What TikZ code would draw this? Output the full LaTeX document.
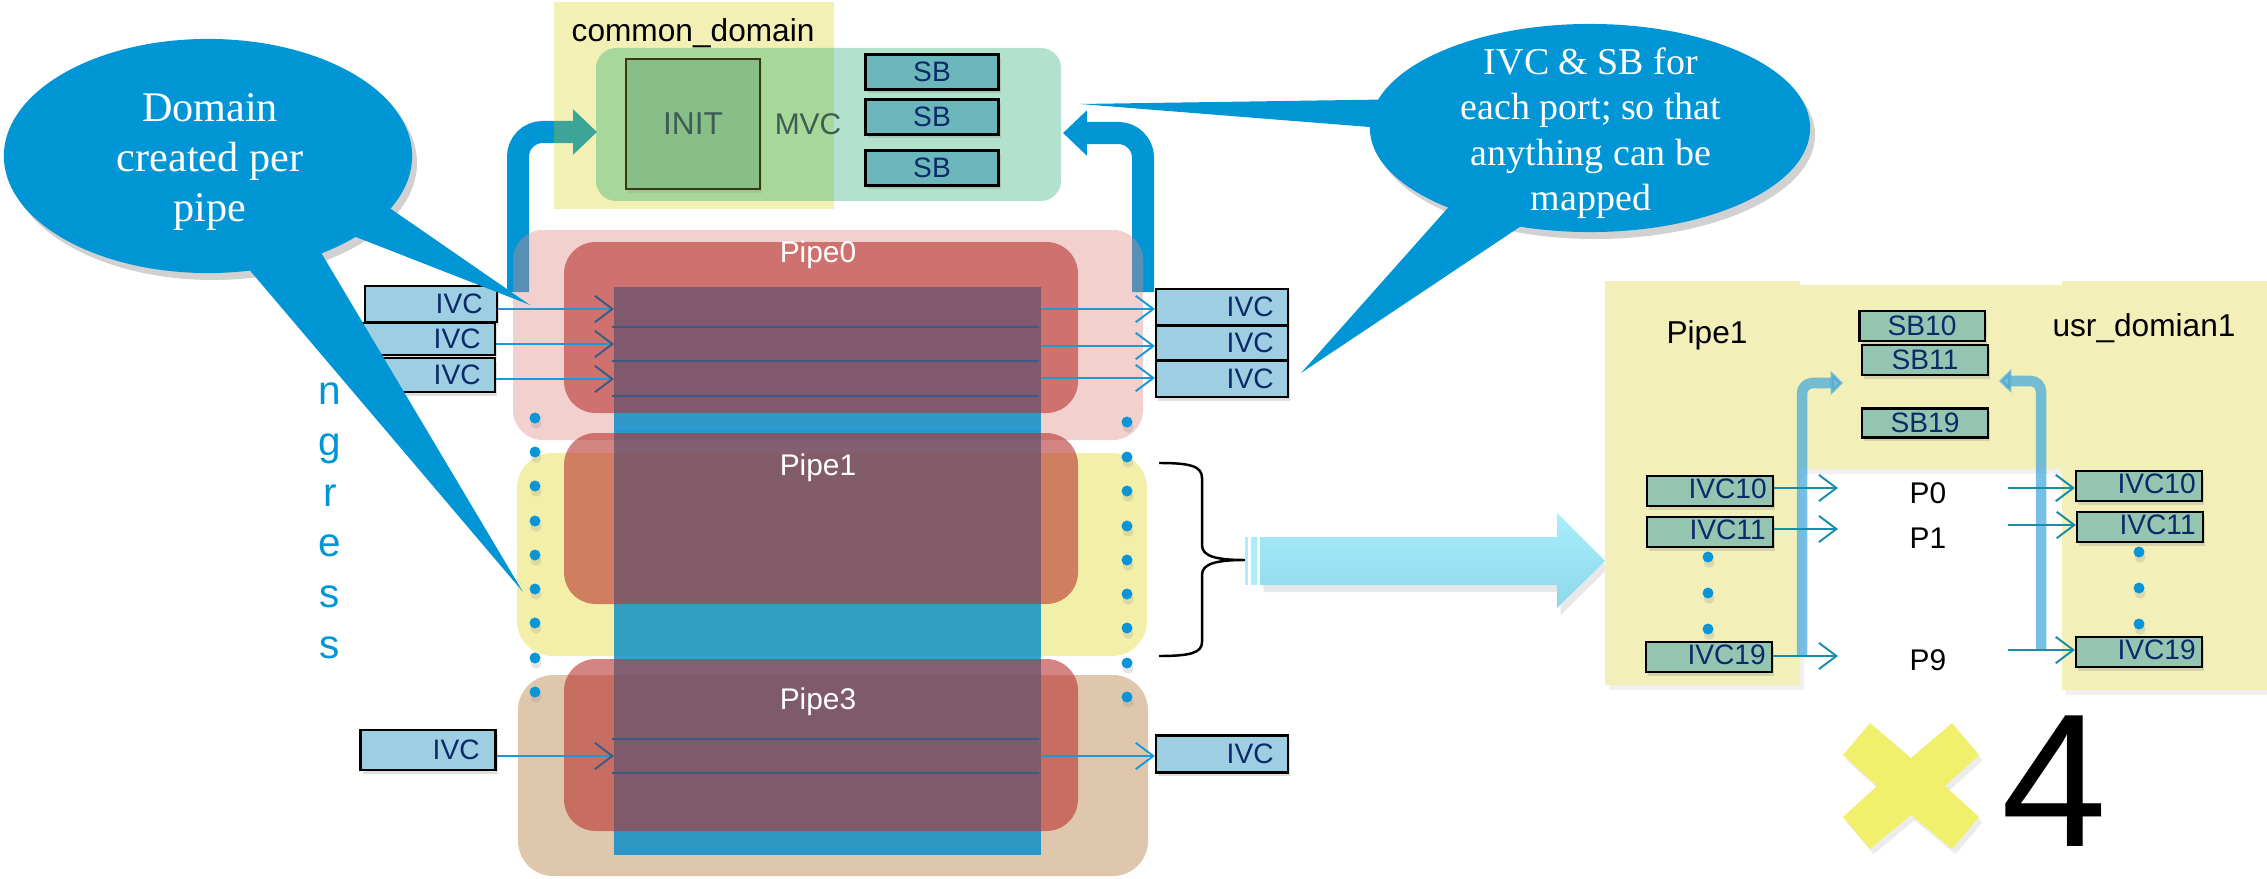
\documentclass[tikz,border=0pt]{standalone}
\usepackage{fontspec}
\setmainfont{Liberation Sans}
\newfontfamily\bubblefont{Liberation Serif}
\usetikzlibrary{arrows.meta,shadows,shapes.geometric}

\definecolor{bubblue}{HTML}{0096D6}
\definecolor{cdyel}{HTML}{D2CC00}
\definecolor{mint}{HTML}{00A05A}
\definecolor{initfill}{HTML}{88BE88}
\definecolor{initdraw}{HTML}{3C3A12}
\definecolor{inittext}{HTML}{3E5C52}
\definecolor{sbfill}{HTML}{6CB7BC}
\definecolor{navytext}{HTML}{0C2A6A}
\definecolor{pinkc}{HTML}{DE8984}
\definecolor{yelc}{HTML}{E8E460}
\definecolor{tanc}{HTML}{BF8F5B}
\definecolor{colblue}{HTML}{008CC8}
\definecolor{redc}{HTML}{B83230}
\definecolor{navyline}{HTML}{3D5A85}
\definecolor{arrblue}{HTML}{1A9AD9}
\definecolor{ivcfill}{HTML}{9ECEE2}
\definecolor{dotblue}{HTML}{0A95D8}
\definecolor{rpyel}{HTML}{F2F0B8}
\definecolor{rpfill}{HTML}{94C5B1}
\definecolor{tealc}{HTML}{178EA8}
\definecolor{lightarr}{HTML}{3FA6DC}
\definecolor{bigtop}{HTML}{A8EEFB}
\definecolor{bigbot}{HTML}{8ED8EA}
\definecolor{crossyel}{HTML}{F0F06C}

\tikzset{
  lbl/.style={inner sep=0pt},
  ivcbox/.style={draw=black, line width=0.6pt, fill=ivcfill, inner sep=0pt,
    minimum width=1.32cm, minimum height=0.35cm, font=\fontsize{8}{9}\selectfont,
    text=navytext, drop shadow={shadow xshift=0.6pt, shadow yshift=-1pt, opacity=0.25}},
  sbbox/.style={ivcbox, fill=sbfill, minimum width=1.33cm, minimum height=0.35cm},
  rpbox/.style={ivcbox, fill=rpfill, minimum width=1.26cm, minimum height=0.30cm},
  pdot/.style={circle, fill=dotblue, inner sep=0pt, minimum size=0.11cm,
    drop shadow={shadow xshift=0.3pt, shadow yshift=-1.5pt, opacity=0.2}},
  arr/.style={draw=arrblue, line width=0.55pt, -{Straight Barb[length=5pt,width=7.5pt]}},
  arrin/.style={draw=arrblue, line width=0.55pt, -{Straight Barb[length=5pt,width=7.5pt,color=navyline]}},
  tarr/.style={draw=tealc, line width=0.55pt, -{Straight Barb[length=5pt,width=7.5pt]}},
  hline/.style={draw=navyline, line width=0.55pt},
  pipelbl/.style={text=white, font=\fontsize{8.5}{10}\selectfont, inner sep=0pt},
  bent/.style={draw=bubblue, line width=6.26pt, rounded corners=7pt, -{Triangle[width=12.5pt,length=6.8pt]}},
  lbent/.style={draw=lightarr, opacity=0.7, line width=3pt, rounded corners=3pt, -{Triangle[width=6.6pt,length=3.5pt]}},
  blk/.style={inner sep=0pt, font=\fontsize{9}{10}\selectfont},
  pport/.style={inner sep=0pt, font=\fontsize{8.5}{10}\selectfont},
  ingr/.style={inner sep=0pt, anchor=base, text=bubblue, font=\fontsize{11.5}{12}\selectfont},
}

\begin{document}
\begin{tikzpicture}[x=0.01cm,y=-0.01cm]
\useasboundingbox (0,0) rectangle (2267,879);

% ---------- bent arrows to common domain (behind)
\coordinate (lbA) at (518,292); \coordinate (lbB) at (518,132); \coordinate (lbC) at (597,132);
\draw[bent] (lbA) -- (lbB) -- (lbC);
\coordinate (rbA) at (1143,292); \coordinate (rbB) at (1143,133); \coordinate (rbC) at (1063,133);
\draw[bent] (rbA) -- (rbB) -- (rbC);

% ---------- common domain
\fill[cdyel, opacity=0.29] (554,2) rectangle (834,209);
\fill[mint, opacity=0.3, rounded corners=5.7pt] (596,48) rectangle (1061,201);
\node[blk, anchor=base west] (cdlbl) at (571,42) {common\_domain};
\node[draw=initdraw, line width=0.6pt, fill=initfill, minimum width=1.34cm, minimum height=1.30cm,
      text=inittext, font=\fontsize{9}{10}\selectfont, inner sep=0pt,
      drop shadow={shadow xshift=0.6pt, shadow yshift=-1pt, opacity=0.2}] (init) at (693,124) {INIT};
\node[lbl, text=inittext, font=\fontsize{8.5}{10}\selectfont] (mvc) at (808,124) {MVC};
\node[sbbox] (sb1) at (932,72) {SB};
\node[sbbox] (sb2) at (932,117) {SB};
\node[sbbox] (sb3) at (932,168) {SB};

% ---------- pipe outer boxes
\fill[pinkc, opacity=0.4, rounded corners=8.5pt] (513,230) rectangle (1143,440);
\fill[yelc, opacity=0.55, rounded corners=10pt] (517,453) rectangle (1147,656);
\fill[tanc, opacity=0.5, rounded corners=10pt] (518,675) rectangle (1148,876);

% ---------- central column
\fill[colblue, opacity=0.8] (614,287) rectangle (1041,855);

% ---------- red pipe boxes
\fill[redc, opacity=0.6, rounded corners=9pt] (564,242) rectangle (1078,413);
\fill[redc, opacity=0.6, rounded corners=9pt] (564,433) rectangle (1078,604);
\fill[redc, opacity=0.6, rounded corners=9pt] (564,659) rectangle (1078,831);

\node[pipelbl] (p0) at (818,255) {Pipe0};
\node[pipelbl] (p1) at (818,468) {Pipe1};
\node[pipelbl] (p3) at (818,702) {Pipe3};

% horizontal lines
\foreach \y in {327,361,396,739,773} \draw[hline] (612,\y) -- (1039,\y);
\draw[draw=arrblue, line width=0.6pt] (614,431) -- (1041,431);

% ---------- IVC boxes pipe0
\node[ivcbox, minimum height=0.36cm] (il1) at (431,304) {\hspace{16pt}IVC};
\node[ivcbox, minimum height=0.32cm] (il2) at (429,339) {\hspace{16pt}IVC};
\node[ivcbox, minimum height=0.34cm] (il3) at (429,375) {\hspace{16pt}IVC};
\node[ivcbox, minimum height=0.36cm] (ir1) at (1222,307) {\hspace{16pt}IVC};
\node[ivcbox, minimum height=0.35cm] (ir2) at (1222,343) {\hspace{16pt}IVC};
\node[ivcbox, minimum height=0.36cm] (ir3) at (1222,379) {\hspace{16pt}IVC};
% pipe3
\node[ivcbox, minimum width=1.35cm, minimum height=0.40cm] (il4) at (428,750) {\hspace{16pt}IVC};
\node[ivcbox, minimum height=0.37cm] (ir4) at (1222,754) {\hspace{16pt}IVC};

\coordinate (tl1) at (614,309); \coordinate (tl2) at (614,344); \coordinate (tl3) at (614,379); \coordinate (tl4) at (614,756);
\coordinate (sr1) at (1041,309); \coordinate (sr2) at (1041,346); \coordinate (sr3) at (1041,378); \coordinate (sr4) at (1041,756);
\draw[arrin] (il1.east |- tl1) -- (tl1);
\draw[arrin] (il2.east |- tl2) -- (tl2);
\draw[arrin] (il3.east |- tl3) -- (tl3);
\draw[arrin] (il4.east |- tl4) -- (tl4);
\draw[arr] (sr1) -- (ir1.west |- sr1);
\draw[arr] (sr2) -- (ir2.west |- sr2);
\draw[arr] (sr3) -- (ir3.west |- sr3);
\draw[arr] (sr4) -- (ir4.west |- sr4);

% dots
\foreach \y [count=\i] in {418,452,486,521,555,589,623,658,692} \node[pdot] (dl\i) at (535,\y) {};
\foreach \y [count=\i] in {422,457,491,526,560,594,628,663,697} \node[pdot] (dr\i) at (1127,\y) {};

% brace
\coordinate (brT) at (1159,463); \coordinate (brB) at (1159,656); \coordinate (brM) at (1245,560);
\draw[black, line width=0.7pt] (brT) .. controls (1190,463) and (1202,466) .. (1202,478) -- (1202,545)
  .. controls (1202,556) and (1215,560) .. (brM)
  .. controls (1215,560) and (1202,564) .. (1202,575) -- (1202,642)
  .. controls (1202,653) and (1190,656) .. (brB);

% big arrow
\shade[top color=bigtop, bottom color=bigbot, drop shadow={shadow xshift=1pt, shadow yshift=-2pt, opacity=0.18}]
  (1260,537) -- (1557,537) -- (1557,513) -- (1605,561) -- (1557,608) -- (1557,585) -- (1260,585) -- cycle;
\fill[bigtop] (1245,537) rectangle (1248,585);
\fill[bigtop] (1251,537) rectangle (1257,585);

% ---------- right panel
\fill[rpyel, drop shadow={shadow xshift=1pt, shadow yshift=-1.5pt, opacity=0.12}] (1605,281) rectangle (1800,685);
\fill[rpyel, drop shadow={shadow xshift=1pt, shadow yshift=-1.5pt, opacity=0.12}] (1800,285) rectangle (2062,469);
\fill[rpyel, drop shadow={shadow xshift=1pt, shadow yshift=-1.5pt, opacity=0.12}] (2062,281) rectangle (2267,690);

\coordinate (laA) at (1802,657); \coordinate (laB) at (1802,383); \coordinate (laC) at (1843,383);
\draw[lbent] (laA) -- (laB) -- (laC);
\coordinate (raA) at (2041,650); \coordinate (raB) at (2041,381); \coordinate (raC) at (1999,381);
\draw[lbent] (raA) -- (raB) -- (raC);

\node[blk] (rpipe) at (1707,335) {Pipe1};
\node[blk] (rusr) at (2144,328) {usr\_domian1};

\node[rpbox, minimum width=1.25cm] (sb10) at (1922,326) {SB10};
\node[rpbox] (sb11) at (1925,360) {SB11};
\node[rpbox, minimum height=0.29cm] (sb19) at (1925,423) {SB19};

\node[rpbox] (a10) at (1710,491) {\hspace{10pt}\raisebox{1.4pt}{IVC10}};
\node[rpbox] (a11) at (1710,532) {\hspace{10pt}\raisebox{1.4pt}{IVC11}};
\node[rpbox] (a19) at (1709,657) {\hspace{10pt}\raisebox{1.4pt}{IVC19}};
\node[rpbox] (b10) at (2139,486) {\hspace{10pt}\raisebox{1.4pt}{IVC10}};
\node[rpbox] (b11) at (2140,527) {\hspace{10pt}\raisebox{1.4pt}{IVC11}};
\node[rpbox] (b19) at (2139,652) {\hspace{10pt}\raisebox{1.4pt}{IVC19}};

\foreach \y [count=\i] in {557,593,629} \node[pdot] (ad\i) at (1708,\y) {};
\foreach \y [count=\i] in {552,588,624} \node[pdot] (bd\i) at (2139,\y) {};

\node[pport] (pp0) at (1928,493) {P0};
\node[pport] (pp1) at (1928,538) {P1};
\node[pport] (pp9) at (1928,660) {P9};

\coordinate (ta1) at (1838,488); \coordinate (ta2) at (1838,529); \coordinate (ta3) at (1838,656);
\draw[tarr] (a10.east |- ta1) -- (ta1);
\draw[tarr] (a11.east |- ta2) -- (ta2);
\draw[tarr] (a19.east |- ta3) -- (ta3);
\coordinate (tb1) at (2008,488); \coordinate (tb2) at (2008,525); \coordinate (tb3) at (2008,650);
\draw[tarr] (tb1) -- (b10.west |- tb1);
\draw[tarr] (tb2) -- (b11.west |- tb2);
\draw[tarr] (tb3) -- (b19.west |- tb3);

% x4
\fill[crossyel, drop shadow={shadow xshift=1pt, shadow yshift=-1.5pt, opacity=0.15}]
  (1843,755) -- (1870,723) -- (1911,758) -- (1952,723) -- (1979,755) -- (1945,786)
  -- (1979,817) -- (1952,849) -- (1911,815) -- (1870,849) -- (1843,817) -- (1877,786) -- cycle;
\node[inner sep=0pt, anchor=base, font=\fontsize{54}{54}\selectfont] (four) at (2054,846) {4};

% ---------- ingress letters
\node[ingr] (g1) at (330,404) {n};
\node[ingr] (g2) at (330,455) {g};
\node[ingr] (g3) at (330,506) {r};
\node[ingr] (g4) at (330,556) {e};
\node[ingr] (g5) at (330,607) {s};
\node[ingr] (g6) at (330,658) {s};

% ---------- left bubble
\fill[black, opacity=0.18] (213,163) ellipse [x radius=204, y radius=117];
\fill[bubblue] (530,305) -- (362,189) -- (320,223) -- cycle;
\fill[bubblue] (523,592) -- (230,247) -- (310,234) -- cycle;
\node[ellipse, fill=bubblue, minimum width=4.08cm, minimum height=2.34cm, inner sep=0pt] (bubL) at (208,156) {};
\node[text=white, align=center, inner sep=0pt, font=\bubblefont\fontsize{12}{14.3}\selectfont] (bubLtxt) at (210,162)
  {Domain\\created per\\pipe};

% ---------- right bubble
\fill[black, opacity=0.18] (1595,135) ellipse [x radius=220, y radius=104];
\fill[bubblue] (1080,104) -- (1420,99) -- (1420,131) -- cycle;
\fill[bubblue] (1301,373) -- (1470,183) -- (1560,200) -- cycle;
\node[ellipse, fill=bubblue, minimum width=4.40cm, minimum height=2.08cm, inner sep=0pt] (bubR) at (1590,128) {};
\node[text=white, align=center, inner sep=0pt, font=\bubblefont\fontsize{10.8}{12.9}\selectfont] (bubRtxt) at (1591,133)
  {IVC \& SB for\\each port; so that\\anything can be\\mapped};

\end{tikzpicture}
\end{document}
